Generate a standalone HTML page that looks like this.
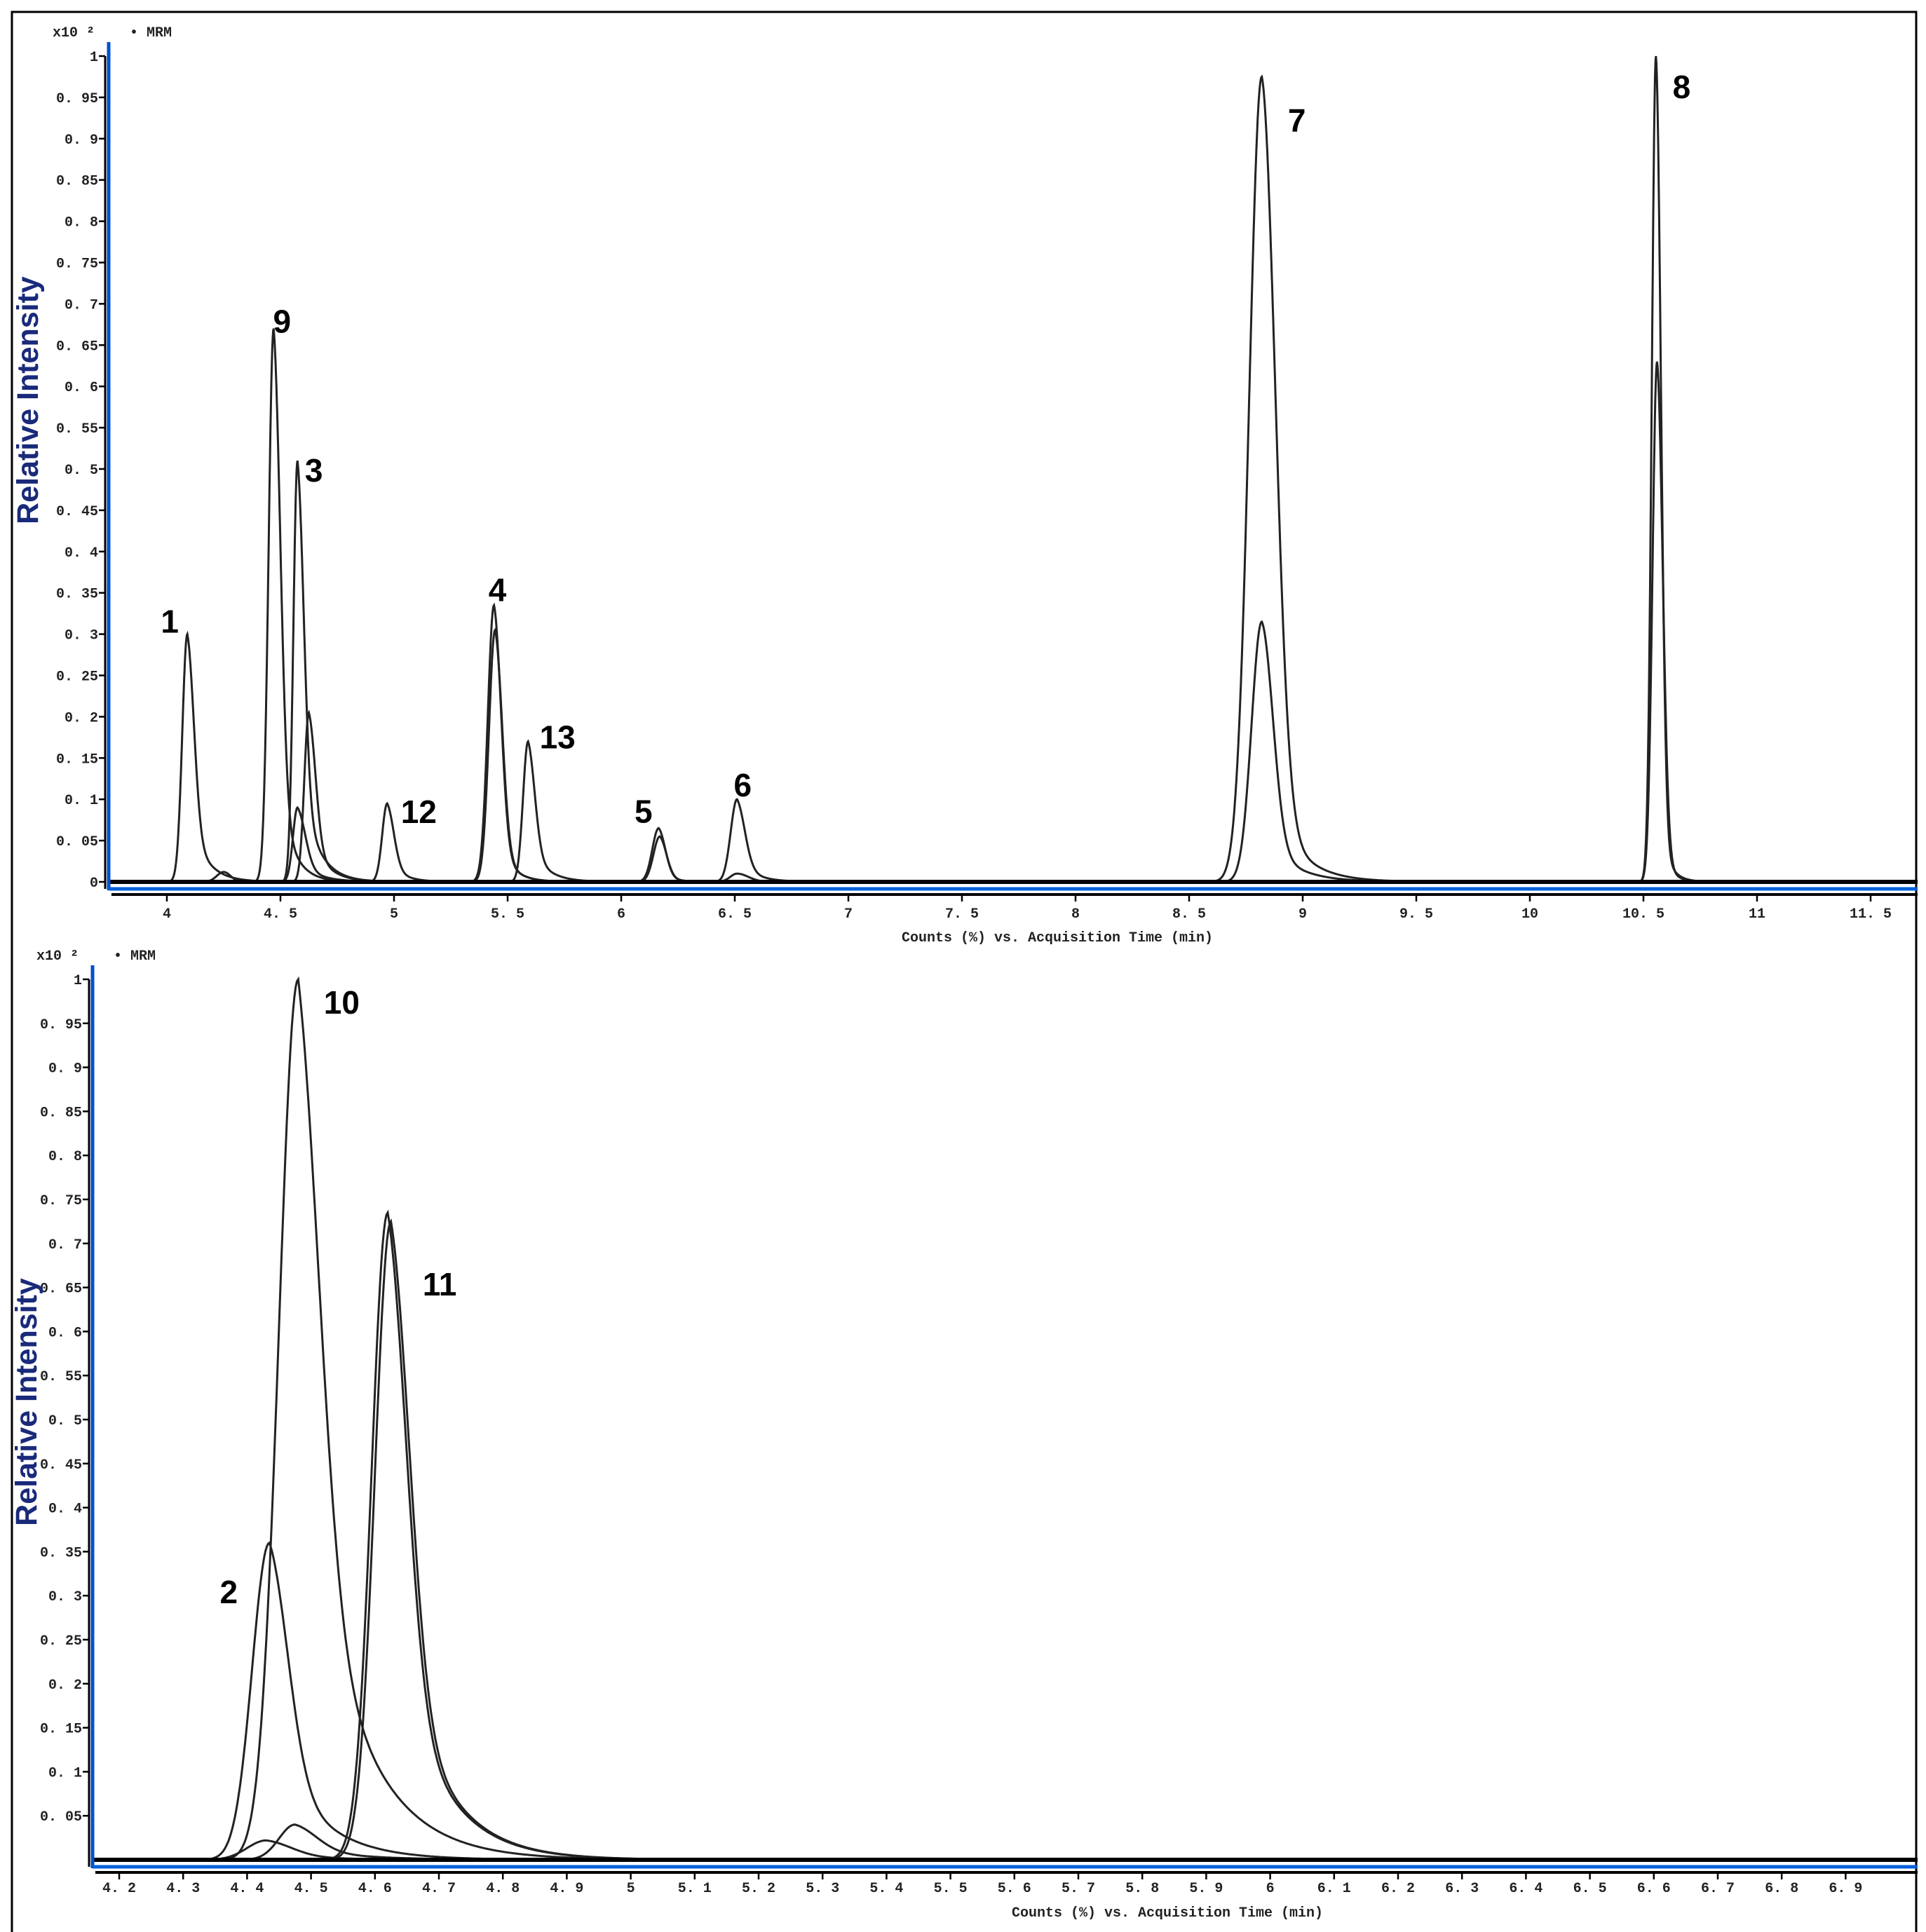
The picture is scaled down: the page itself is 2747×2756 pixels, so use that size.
<!DOCTYPE html>
<html><head><meta charset="utf-8">
<style>
html,body{margin:0;padding:0;background:#fff;}
svg{display:block;}
.tk{font-family:"Liberation Mono",monospace;font-weight:bold;font-size:20px;fill:#222;}
.pl{font-family:"Liberation Sans",sans-serif;font-weight:bold;font-size:46px;fill:#000;}
.yt{font-family:"Liberation Sans",sans-serif;font-weight:bold;font-size:43px;fill:#1a2a7a;}
</style></head>
<body>
<svg id="root" width="2747" height="2756" viewBox="0 0 2747 2756" xmlns="http://www.w3.org/2000/svg">
<rect x="0" y="0" width="2747" height="2756" fill="#fff"/>
<path d="M17,2756 V17 H2733 V2756" fill="none" stroke="#000" stroke-width="3"/>
<g id="top"></g>
<g id="bot"></g>
</svg>
<script>
// ---- top chart data ----
const topXTicks=[4,4.5,5,5.5,6,6.5,7,7.5,8,8.5,9,9.5,10,10.5,11,11.5];
const topYTicks=[0,0.05,0.1,0.15,0.2,0.25,0.3,0.35,0.4,0.45,0.5,0.55,0.6,0.65,0.7,0.75,0.8,0.85,0.9,0.95,1];
const topPeakTimes=[4.09,4.25,4.47,4.575,4.625,4.575,4.97,5.44,5.445,5.59,6.165,6.17,6.51,6.51,8.82,8.82,10.555,10.56];
const topPeakHeights=[0.30,0.012,0.67,0.51,0.205,0.09,0.095,0.335,0.305,0.17,0.065,0.055,0.10,0.01,0.975,0.315,1.0,0.63];
const topSigmaL=[0.022,0.03,0.022,0.018,0.02,0.02,0.022,0.027,0.027,0.022,0.028,0.028,0.028,0.03,0.055,0.045,0.018,0.02];
const topSigmaR=[0.03,0.03,0.03,0.028,0.03,0.035,0.03,0.032,0.032,0.03,0.03,0.03,0.035,0.05,0.06,0.05,0.022,0.025];
const topTailFrac=[0.3,0,0.25,0.3,0.3,0.3,0.3,0.2,0.2,0.3,0.2,0.2,0.3,0,0.15,0.2,0.1,0.1];
const topTailTau=[0.07,0.05,0.06,0.07,0.07,0.08,0.06,0.06,0.06,0.07,0.05,0.05,0.07,0.05,0.12,0.12,0.04,0.04];
const topLabels=["1","9","3","12","4","13","5","6","7","8"];
const topLabelT=[4.09,4.47,4.57,4.97,5.44,5.59,6.16,6.51,8.82,10.56];
const topLabelV=[0.30,0.67,0.51,0.095,0.335,0.17,0.065,0.10,0.975,1.0];
// ---- bottom chart data ----
const botXTicks=[4.2,4.3,4.4,4.5,4.6,4.7,4.8,4.9,5,5.1,5.2,5.3,5.4,5.5,5.6,5.7,5.8,5.9,6,6.1,6.2,6.3,6.4,6.5,6.6,6.7,6.8,6.9];
const botYTicks=[0.05,0.1,0.15,0.2,0.25,0.3,0.35,0.4,0.45,0.5,0.55,0.6,0.65,0.7,0.75,0.8,0.85,0.9,0.95,1];
const botPeakTimes=[4.435,4.48,4.62,4.625,4.43,4.475];
const botPeakHeights=[0.36,1.0,0.735,0.725,0.022,0.04];
const botSigmaL=[0.027,0.03,0.025,0.025,0.03,0.025];
const botSigmaR=[0.03,0.035,0.03,0.03,0.04,0.035];
const botTailFrac=[0.4,0.5,0.4,0.4,0.3,0.4];
const botTailTau=[0.07,0.08,0.07,0.07,0.08,0.08];
const botLabels=["10","11","2"];
const botLabelT=[4.48,4.62,4.435];
const botLabelV=[1.0,0.735,0.36];

const NS="http://www.w3.org/2000/svg";
function mk(tag,attrs,parent){const e=document.createElementNS(NS,tag);for(const k in attrs)e.setAttribute(k,attrs[k]);parent.appendChild(e);return e;}
function fmt(v){let s=String(+v.toFixed(2));return s.replace(".",". ");}

function chart(g,cfg){
  const X=t=>cfg.x0+(t-cfg.t0)*cfg.pxPerMin;
  const Y=v=>cfg.yBase-v*cfg.pxPerUnit;
  for(let i=0;i<cfg.times.length;i++){
    let d="";
    const a=cfg.times[i]-6*cfg.sl[i], b=cfg.times[i]+Math.max(6*cfg.sr[i],7*cfg.tau[i]);
    for(let t=a;t<=b;t+=0.002){
      const dd=t-cfg.times[i];
      let v;
      if(dd<0){v=cfg.heights[i]*Math.exp(-0.5*(dd/cfg.sl[i])**2);}
      else{const f=cfg.frac[i];v=cfg.heights[i]*((1-f)*Math.exp(-0.5*(dd/cfg.sr[i])**2)+f*Math.exp(-dd/cfg.tau[i]));}
      d+=(d?"L":"M")+X(t).toFixed(1)+","+Y(v).toFixed(1);
    }
    const p=mk("path",{d:d,fill:"none",stroke:"#222","stroke-width":"3"},g);
    
    
  }
  const bl=mk("line",{x1:cfg.axX,y1:Y(0),x2:2735,y2:Y(0),stroke:"#000","stroke-width":"6"},g);
  
  
  const yb=mk("line",{x1:cfg.axX-5,y1:cfg.yTop,x2:cfg.axX-5,y2:cfg.xAxY,stroke:"#000","stroke-width":"3"},g);
  
  
  const ya=mk("line",{x1:cfg.axX,y1:cfg.yTop-20,x2:cfg.axX,y2:cfg.xAxY+2,stroke:"#0050d0","stroke-width":"5"},g);
  
  
  const xa=mk("line",{x1:cfg.axX,y1:cfg.xAxY,x2:2735,y2:cfg.xAxY,stroke:"#0060d8","stroke-width":"5"},g);
  
  
  const xb=mk("line",{x1:cfg.axX+4,y1:cfg.xAxY+8,x2:2735,y2:cfg.xAxY+8,stroke:"#000","stroke-width":"4"},g);
  
  
  cfg.yTicks.forEach(v=>{
    const tl=mk("line",{x1:cfg.axX-14,y1:Y(v),x2:cfg.axX-5,y2:Y(v),stroke:"#000","stroke-width":"2.5"},g);
    
    
    const tx=mk("text",{x:cfg.axX-15,y:Y(v)+7,"text-anchor":"end",class:"tk"},g);
    tx.textContent=fmt(v);
    
    
  });
  cfg.xTicks.forEach(t=>{
    const tl=mk("line",{x1:X(t),y1:cfg.xAxY+8,x2:X(t),y2:cfg.xAxY+18,stroke:"#000","stroke-width":"2.5"},g);
    
    
    const tx=mk("text",{x:X(t),y:cfg.xLblY,"text-anchor":"middle",class:"tk"},g);
    tx.textContent=fmt(t);
    
    
  });
  for(let i=0;i<cfg.labels.length;i++){
    const o=cfg.labelOff[i];
    const tx=mk("text",{x:X(cfg.labelT[i])+o[0],y:Y(cfg.labelV[i])+o[1],"text-anchor":"middle",class:"pl"},g);
    tx.textContent=cfg.labels[i];
    
    
  }
  const h=mk("text",{x:cfg.axX-20,y:cfg.yTop-28,"text-anchor":"end",class:"tk","font-size":"20"},g);
  h.textContent="x10 ²";
  
  
  const m=mk("text",{x:cfg.axX+30,y:cfg.yTop-28,class:"tk","font-size":"18"},g);
  m.textContent="• MRM";
  
  
  const xt=mk("text",{x:cfg.titleX,y:cfg.titleY,"text-anchor":"middle",class:"tk"},g);
  xt.textContent="Counts (%) vs. Acquisition Time (min)";
  
  
  const yt=mk("text",{x:0,y:0,"text-anchor":"middle",class:"yt",transform:`translate(${cfg.ytX},${cfg.ytY}) rotate(-90)`},g);
  yt.textContent="Relative Intensity";
  
  
}

chart(document.getElementById("top"),{
  x0:238,t0:4,pxPerMin:324,yBase:1258,pxPerUnit:1178,axX:155,yTop:80,xAxY:1268,xLblY:1309,
  times:topPeakTimes,heights:topPeakHeights,sl:topSigmaL,sr:topSigmaR,frac:topTailFrac,tau:topTailTau,
  xTicks:topXTicks,yTicks:topYTicks,labels:topLabels,labelT:topLabelT,labelV:topLabelV,
  labelOff:[[-25,-2],[12,6],[25,30],[45,28],[5,-6],[42,10],[-20,-8],[8,-4],[50,78],[35,60]],
  titleX:1508,titleY:1343,ytX:54,ytY:571
});
document.getElementById("top");
document.getElementById("top");
chart(document.getElementById("bot"),{
  x0:170,t0:4.2,pxPerMin:912,yBase:2653,pxPerUnit:1256,axX:132,yTop:1397,xAxY:2663,xLblY:2699,
  times:botPeakTimes,heights:botPeakHeights,sl:botSigmaL,sr:botSigmaR,frac:botTailFrac,tau:botTailTau,
  xTicks:botXTicks,yTicks:botYTicks,labels:botLabels,labelT:botLabelT,labelV:botLabelV,
  labelOff:[[62,49],[74,118],[-58,86]],
  titleX:1665,titleY:2734,ytX:52,ytY:2000
});
document.getElementById("bot");
document.getElementById("bot");
</script>
</body></html>
